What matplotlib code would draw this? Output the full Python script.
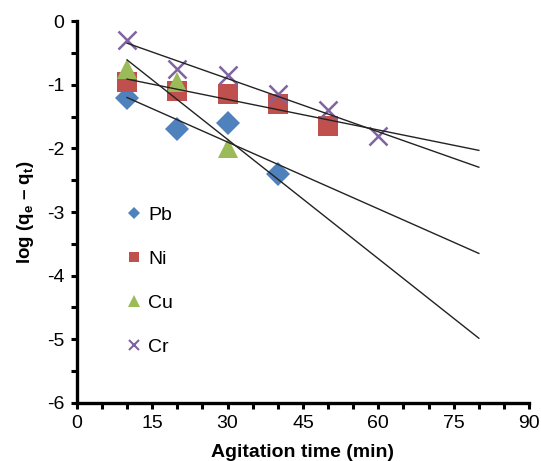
import numpy as np
import matplotlib
matplotlib.use("Agg")
import matplotlib.pyplot as plt
from matplotlib.ticker import MultipleLocator

plt.rcParams['font.family'] = ['Liberation Sans', 'DejaVu Sans']
plt.rcParams['axes.unicode_minus'] = False
plt.rcParams['mathtext.fontset'] = 'custom'
plt.rcParams['mathtext.rm'] = 'Liberation Sans'
plt.rcParams['mathtext.bf'] = 'Liberation Sans:bold'

# ---- data ----
pb_t = [10, 20, 30, 40]
pb_y = [-1.2, -1.7, -1.6, -2.4]
ni_t = [10, 20, 30, 40, 50]
ni_y = [-0.95, -1.1, -1.15, -1.3, -1.65]
cu_t = [10, 20, 30]
cu_y = [-0.75, -0.95, -2.0]
cr_t = [10, 20, 30, 40, 50, 60]
cr_y = [-0.3, -0.75, -0.85, -1.15, -1.4, -1.8]
TREND_END = 80  # trendlines are forecast to t = 80 min

series = [
    ("Pb", pb_t, pb_y, "D", "#4F81BD", 12.5, 6),
    ("Ni", ni_t, ni_y, "s", "#C0504D", 14, 7.5),
    ("Cu", cu_t, cu_y, "^", "#9BBB59", 14, 8),
    ("Cr", cr_t, cr_y, "x", "#8064A2", 13.5, 7.5),
]

fig = plt.figure(figsize=(5.41, 4.61), dpi=100)
ax = fig.add_axes([0.142, 0.126, 0.836, 0.828])

handles = []
for name, t, y, mk, col, ms, lms in series:
    mew = 1.8 if mk == "x" else 0
    ax.plot(t, y, linestyle="none", marker=mk, color=col, markersize=ms,
            markeredgewidth=mew, zorder=3)
    # linear trendline
    k, b = np.polyfit(t, y, 1)
    xx = np.array([min(t), TREND_END])
    ax.plot(xx, k * xx + b, color="#222222", linewidth=1.0, zorder=4)
    h, = ax.plot([], [], linestyle="none", marker=mk, color=col,
                 markersize=lms, markeredgewidth=1.5 if mk == "x" else 0)
    handles.append(h)

ax.legend(handles, [s[0] for s in series], loc="upper left",
          bbox_to_anchor=(0.11, 0.515), frameon=False, fontsize=14,
          handlelength=0.8, handletextpad=0.3, labelspacing=1.35,
          borderpad=0, borderaxespad=0)

ax.set_xlim(0, 90)
ax.set_ylim(-6, 0)
ax.xaxis.set_major_locator(MultipleLocator(15))
ax.xaxis.set_minor_locator(MultipleLocator(5))
ax.yaxis.set_major_locator(MultipleLocator(1))
ax.yaxis.set_minor_locator(MultipleLocator(0.5))

for side in ("top", "right"):
    ax.spines[side].set_visible(False)
for side in ("left", "bottom"):
    ax.spines[side].set_linewidth(2.4)

ax.tick_params(axis="both", which="both", direction="out", width=2.2,
               length=4, labelsize=14, pad=5)

ax.set_xlabel("Agitation time (min)", fontsize=14, fontweight="bold", labelpad=8)
ax.set_ylabel(r"log (q$_\mathbf{e}$ – q$_\mathbf{t}$)", fontsize=13.5,
              fontweight="bold", labelpad=8)

fig.savefig("out.png", dpi=100)
